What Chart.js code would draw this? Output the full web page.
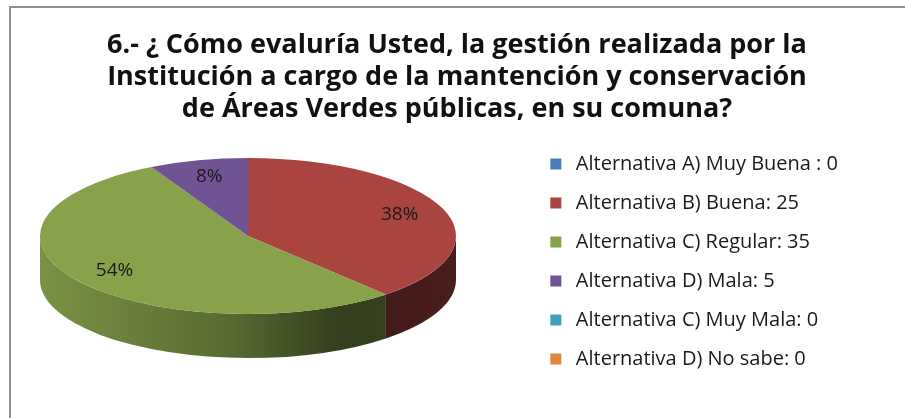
<!DOCTYPE html>
<html>
<head>
<meta charset="utf-8">
<script src="https://cdn.jsdelivr.net/npm/chart.js@4.4.1/dist/chart.umd.min.js"></script>
<style>
    html, body { margin: 0; padding: 0; background: #fff; }
    #wrap { position: relative; width: 905px; height: 418px; overflow: hidden; }
    #wrap canvas { position: absolute; left: 0; top: 0; }
    #frame { position: absolute; left: 9px; top: 6px; right: -10px; bottom: -10px;
             border-top: 2px solid #8f8f8f; border-left: 2px solid #8f8f8f; }
</style>
</head>
<body>
<div id="wrap">
    <canvas id="pieChart" width="905" height="418"></canvas>
    <div id="frame"></div>
</div>
<script>
const titleLines = [
    '6.- ¿ Cómo evaluría Usted, la gestión realizada por la',
    'Institución a cargo de la mantención y conservación',
    'de Áreas Verdes públicas, en su comuna?'
];
const categories = [
    'Alternativa A) Muy Buena : 0',
    'Alternativa B) Buena: 25',
    'Alternativa C) Regular: 35',
    'Alternativa D) Mala: 5',
    'Alternativa C) Muy Mala: 0',
    'Alternativa D) No sabe: 0'
];
const counts = [0, 25, 35, 5, 0, 0];
const sliceColors = ['#4a7ebb', '#a9443f', '#87a24b', '#705393', '#3f9fb7', '#e4863c'];

// look of the tilted pie (Excel 3-D style)
const pie = { cx: 248, cy: 236, rx: 208, ry: 78, depth: 44, labelAt: 0.78 };

function shade(hex, f) {
    const n = parseInt(hex.slice(1), 16);
    const r = Math.round(((n >> 16) & 255) * f);
    const g = Math.round(((n >> 8) & 255) * f);
    const b = Math.round((n & 255) * f);
    return `rgb(${r},${g},${b})`;
}

const pie3d = {
    id: 'pie3d',
    beforeDatasetsDraw(chart) {
        const ctx = chart.ctx;
        const arcs = chart.getDatasetMeta(0).data;
        const { x, y, outerRadius } = arcs[0];

        // side wall, only the front half (angles 0..PI) is visible
        arcs.forEach((arc, i) => {
            const grad = ctx.createLinearGradient(pie.cx - pie.rx, 0, pie.cx + pie.rx, 0);
            const base = sliceColors[i];
            grad.addColorStop(0, shade(base, 0.9));
            grad.addColorStop(0.45, shade(base, 0.66));
            grad.addColorStop(0.72, shade(base, 0.38));
            grad.addColorStop(1, shade(base, 0.43));
            for (const off of [-2 * Math.PI, 0, 2 * Math.PI]) {
                const s = Math.max(arc.startAngle, off);
                const e = Math.min(arc.endAngle, off + Math.PI);
                if (e <= s) continue;
                ctx.beginPath();
                ctx.ellipse(pie.cx, pie.cy, pie.rx, pie.ry, 0, s, e);
                ctx.lineTo(pie.cx + pie.rx * Math.cos(e), pie.cy + pie.depth + pie.ry * Math.sin(e));
                ctx.ellipse(pie.cx, pie.cy + pie.depth, pie.rx, pie.ry, 0, e, s, true);
                ctx.closePath();
                ctx.fillStyle = grad;
                ctx.fill();
            }
        });

        // squash the flat pie into the top face
        ctx.save();
        ctx.translate(pie.cx, pie.cy);
        ctx.scale(pie.rx / outerRadius, pie.ry / outerRadius);
        ctx.translate(-x, -y);
    },
    afterDatasetsDraw(chart) {
        const ctx = chart.ctx;
        ctx.restore();

        const arcs = chart.getDatasetMeta(0).data;
        const total = counts.reduce((a, b) => a + b, 0);
        ctx.save();
        ctx.font = '19px "Open Sans"';
        ctx.fillStyle = '#1a1a1a';
        ctx.textAlign = 'center';
        ctx.textBaseline = 'middle';
        arcs.forEach((arc, i) => {
            if (!counts[i]) return;
            const mid = (arc.startAngle + arc.endAngle) / 2;
            const lx = pie.cx + pie.rx * pie.labelAt * Math.cos(mid);
            const ly = pie.cy + pie.ry * pie.labelAt * Math.sin(mid);
            ctx.fillText(Math.round(counts[i] / total * 100) + '%', lx, ly);
        });
        ctx.restore();
    }
};

new Chart(document.getElementById('pieChart'), {
    type: 'pie',
    data: {
        labels: categories,
        datasets: [{
            data: counts,
            backgroundColor: sliceColors,
            borderWidth: 0
        }]
    },
    options: {
        responsive: false,
        animation: false,
        events: [],
        layout: { padding: { left: 66, right: 57, top: 0, bottom: 20 } },
        plugins: {
            title: {
                display: true,
                text: titleLines,
                color: '#111',
                font: { family: 'Open Sans', size: 27, weight: 'bold', lineHeight: 1.185 },
                padding: { top: 29, bottom: 10 }
            },
            legend: {
                position: 'right',
                align: 'start',
                fullSize: false,
                labels: {
                    color: '#1a1a1a',
                    font: { family: 'Open Sans', size: 20 },
                    usePointStyle: true,
                    pointStyle: 'rect',
                    boxWidth: 20,
                    boxHeight: 11,
                    padding: 19
                }
            },
            tooltip: { enabled: false }
        }
    },
    plugins: [pie3d]
});
</script>
</body>
</html>
